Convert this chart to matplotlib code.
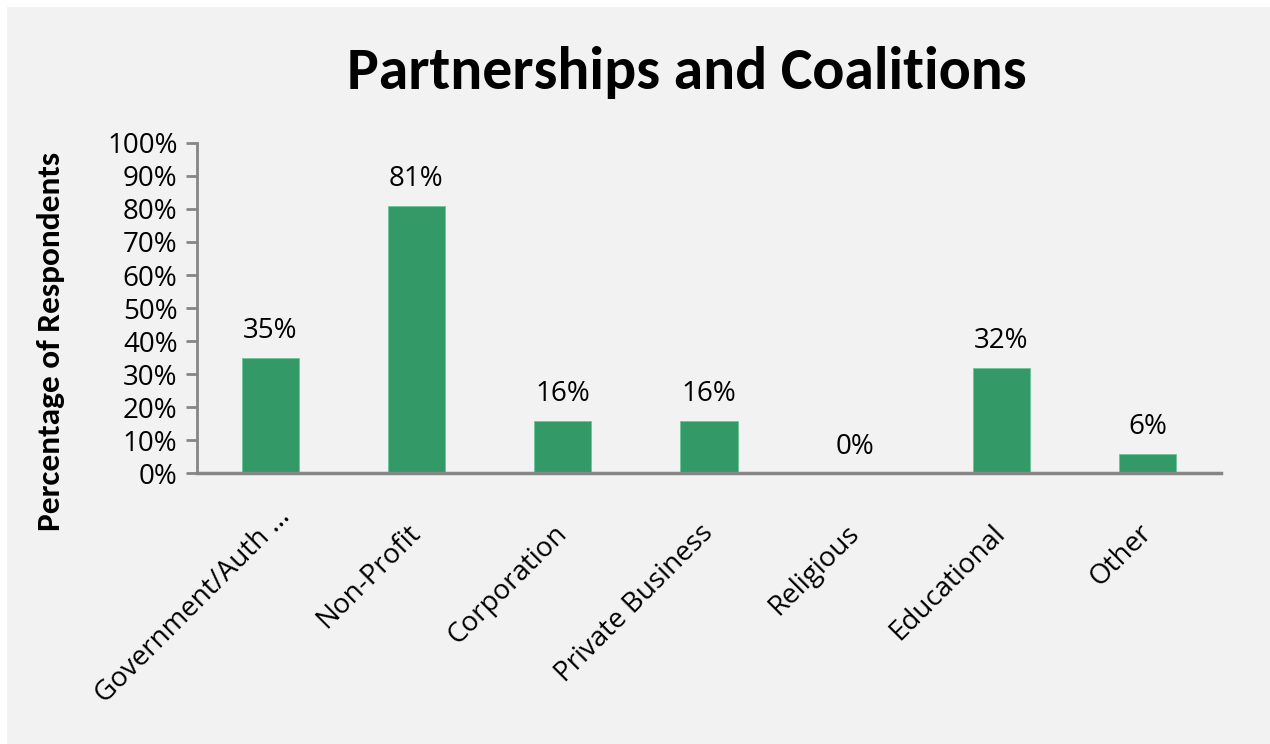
import matplotlib.pyplot as plt
from matplotlib.patches import Rectangle
from matplotlib.ticker import PercentFormatter, MultipleLocator
from matplotlib.transforms import ScaledTranslation

categories = ["Government/Auth ...", "Non-Profit", "Corporation", "Private Business",
              "Religious", "Educational", "Other"]
values = [35, 81, 16, 16, 0, 32, 6]

BAR_COLOR = "#339966"
AXIS_COLOR = "#868686"
BG = "#f2f2f2"

fig = plt.figure(figsize=(12.7, 7.44), dpi=100, facecolor="white")
# grey chart area, leaving a thin white strip on top and left
fig.patches.append(Rectangle((7 / 1270, 0), 1, 737 / 744, transform=fig.transFigure,
                             facecolor=BG, edgecolor="none", zorder=-10))

ax = fig.add_axes([0.1551, 0.3636, 0.8063, 0.4446])
ax.set_facecolor(BG)

x = range(len(categories))
bars = ax.bar(x, values, width=0.39, color=BAR_COLOR, edgecolor="#6cc49a", linewidth=0.6)

for rect, v in zip(bars, values):
    ax.annotate(f"{v}%", (rect.get_x() + rect.get_width() / 2, v),
                xytext=(0, 14), textcoords="offset points",
                ha="center", va="baseline", fontsize=20, family="Open Sans")

ax.set_xlim(-0.5, len(categories) - 0.5)
ax.set_ylim(0, 100)
ax.yaxis.set_major_locator(MultipleLocator(10))
ax.yaxis.set_major_formatter(PercentFormatter(decimals=0))

ax.set_xticks(list(x))
ax.set_xticklabels(categories, rotation=45, ha="right", va="center",
                   rotation_mode="anchor", fontsize=20, family="Open Sans")
ax.tick_params(axis="x", length=0, pad=40)
ax.tick_params(axis="y", length=8, width=2, color=AXIS_COLOR, labelsize=20, pad=6)
for lab in ax.get_yticklabels():
    lab.set_family("Open Sans")

# truncated first label sits a bit further along its diagonal
first = ax.get_xticklabels()[0]
first.set_transform(first.get_transform() + ScaledTranslation(0.16, 0.16, fig.dpi_scale_trans))

for side in ["top", "right"]:
    ax.spines[side].set_visible(False)
ax.spines["left"].set_color(AXIS_COLOR)
ax.spines["left"].set_linewidth(2)
ax.spines["bottom"].set_color(AXIS_COLOR)
ax.spines["bottom"].set_linewidth(2.5)

fig.text(687 / 1270, 1 - 89 / 744, "Partnerships and Coalitions", ha="center", va="baseline",
         fontsize=43, fontweight="bold", family="Carlito")
fig.text(51 / 1270, 1 - 341 / 744, "Percentage of Respondents", rotation=90,
         ha="center", va="center", fontsize=24, fontweight="bold", family="Carlito")

fig.savefig("out.png", dpi=100, facecolor=fig.get_facecolor())
